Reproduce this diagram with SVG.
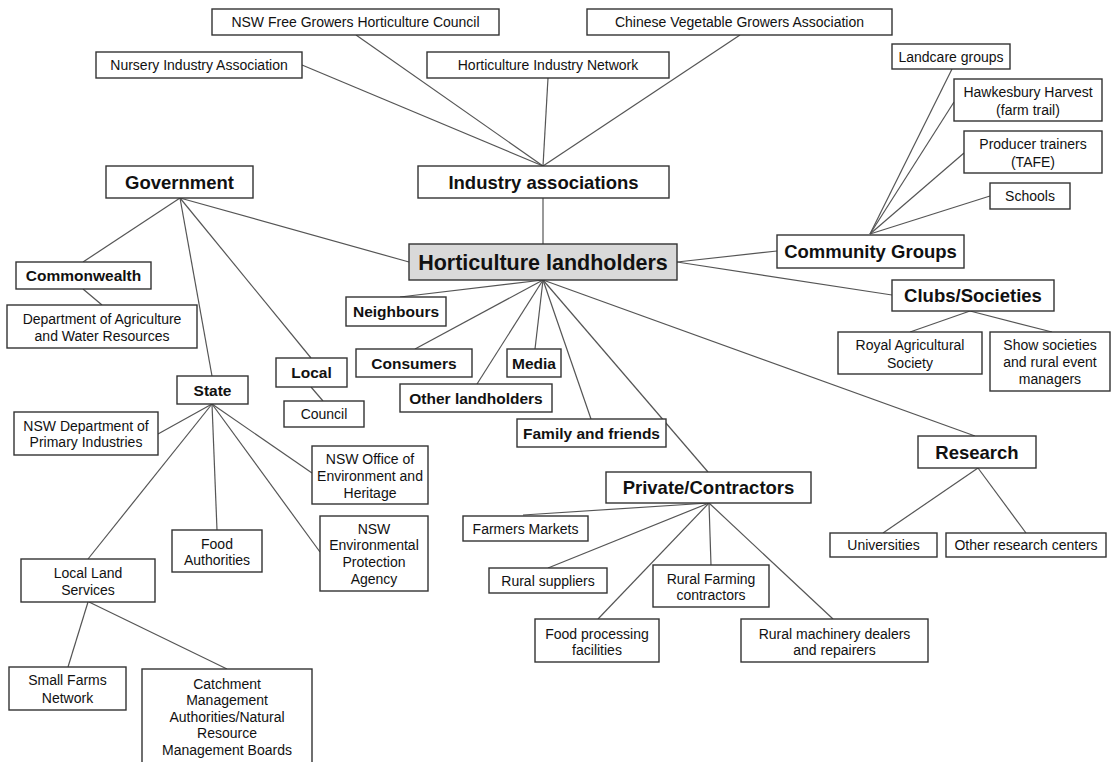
<svg xmlns="http://www.w3.org/2000/svg" width="1111" height="762" viewBox="0 0 1111 762">
<style>
rect{fill:#fff;stroke:#333;stroke-width:1.4}
.hl rect{fill:#d9d9d9}
text{font-family:"Liberation Sans",Arial,sans-serif;fill:#111;text-anchor:middle}
.r{font-size:14px}
.b1{font-size:18.5px;font-weight:bold}
.b2{font-size:15.5px;font-weight:bold}
.b0{font-size:21.5px;font-weight:bold}
#connectors line{stroke:#555;stroke-width:1.2}
</style>
<rect x="0" y="0" width="1111" height="762" style="fill:#fff;stroke:none"/>
<g id="connectors">
<line x1="302" y1="65" x2="543" y2="166"/>
<line x1="356" y1="35" x2="543" y2="166"/>
<line x1="548" y1="78" x2="543" y2="166"/>
<line x1="740" y1="35" x2="543" y2="166"/>
<line x1="543" y1="198" x2="543" y2="244"/>
<line x1="180" y1="198" x2="409" y2="262"/>
<line x1="180" y1="198" x2="83" y2="262"/>
<line x1="83" y1="289" x2="102" y2="305"/>
<line x1="180" y1="198" x2="212" y2="376"/>
<line x1="180" y1="198" x2="311" y2="358"/>
<line x1="311" y1="387" x2="323" y2="401"/>
<line x1="212" y1="404" x2="158" y2="434"/>
<line x1="212" y1="404" x2="88" y2="559"/>
<line x1="212" y1="404" x2="217" y2="530"/>
<line x1="212" y1="404" x2="312" y2="473"/>
<line x1="212" y1="404" x2="320" y2="552"/>
<line x1="88" y1="602" x2="68" y2="667"/>
<line x1="89" y1="602" x2="227" y2="669"/>
<line x1="543" y1="280" x2="400" y2="297"/>
<line x1="543" y1="280" x2="415" y2="349"/>
<line x1="543" y1="280" x2="477" y2="384"/>
<line x1="543" y1="280" x2="535" y2="349"/>
<line x1="543" y1="280" x2="591" y2="419"/>
<line x1="543" y1="280" x2="708" y2="472"/>
<line x1="543" y1="280" x2="975" y2="436"/>
<line x1="677" y1="262" x2="777" y2="251"/>
<line x1="677" y1="262" x2="892" y2="295"/>
<line x1="870" y1="234" x2="952" y2="69"/>
<line x1="870" y1="234" x2="954" y2="102"/>
<line x1="870" y1="234" x2="964" y2="153"/>
<line x1="870" y1="234" x2="990" y2="196"/>
<line x1="970" y1="311" x2="910" y2="332"/>
<line x1="970" y1="311" x2="1052" y2="332"/>
<line x1="978" y1="468" x2="883" y2="533"/>
<line x1="978" y1="468" x2="1026" y2="533"/>
<line x1="709" y1="503" x2="523" y2="515"/>
<line x1="709" y1="503" x2="548" y2="568"/>
<line x1="709" y1="503" x2="711" y2="565"/>
<line x1="709" y1="503" x2="598" y2="619"/>
<line x1="709" y1="503" x2="833" y2="619"/>
</g>
<g id="nsw-free"><rect x="212" y="9" width="287" height="26"/><text class="r" x="355.5" y="27">NSW Free Growers Horticulture Council</text></g>
<g id="chinese-veg"><rect x="587" y="9" width="305" height="26"/><text class="r" x="739.5" y="27">Chinese Vegetable Growers Association</text></g>
<g id="nursery"><rect x="96" y="52" width="206" height="26"/><text class="r" x="199" y="70">Nursery Industry Association</text></g>
<g id="hin"><rect x="427" y="52" width="242" height="26"/><text class="r" x="548" y="70">Horticulture Industry Network</text></g>
<g id="government"><rect x="106" y="166" width="147" height="32"/><text class="b1" x="179.5" y="188.5">Government</text></g>
<g id="industry"><rect x="418" y="166" width="251" height="32"/><text class="b1" x="543.5" y="188.5">Industry associations</text></g>
<g id="landcare"><rect x="892" y="44" width="118" height="25"/><text class="r" x="951" y="61.5">Landcare groups</text></g>
<g id="hawkesbury"><rect x="954" y="79" width="148" height="42"/><text class="r" x="1028" y="97">Hawkesbury Harvest</text><text class="r" x="1028" y="115">(farm trail)</text></g>
<g id="producer"><rect x="964" y="131" width="138" height="42"/><text class="r" x="1033" y="149">Producer trainers</text><text class="r" x="1033" y="166.5">(TAFE)</text></g>
<g id="schools"><rect x="990" y="183" width="80" height="26"/><text class="r" x="1030" y="201">Schools</text></g>
<g id="community"><rect x="777" y="235" width="187" height="33"/><text class="b1" x="870.5" y="258">Community Groups</text></g>
<g id="landholders" class="hl"><rect x="409" y="244" width="268" height="36"/><text class="b0" x="543" y="269.5">Horticulture landholders</text></g>
<g id="commonwealth"><rect x="16" y="262" width="135" height="27"/><text class="b2" x="83.5" y="281">Commonwealth</text></g>
<g id="dept-ag"><rect x="7" y="305" width="190" height="43"/><text class="r" x="102" y="324">Department of Agriculture</text><text class="r" x="102" y="341">and Water Resources</text></g>
<g id="neighbours"><rect x="346" y="297" width="100" height="29"/><text class="b2" x="396" y="317">Neighbours</text></g>
<g id="clubs"><rect x="892" y="280" width="162" height="31"/><text class="b1" x="973" y="302">Clubs/Societies</text></g>
<g id="royal"><rect x="838" y="332" width="144" height="42"/><text class="r" x="910" y="350">Royal Agricultural</text><text class="r" x="910" y="367.5">Society</text></g>
<g id="show"><rect x="990" y="332" width="120" height="59"/><text class="r" x="1050" y="350">Show societies</text><text class="r" x="1050" y="367">and rural event</text><text class="r" x="1050" y="384">managers</text></g>
<g id="consumers"><rect x="356" y="349" width="116" height="28"/><text class="b2" x="414" y="368.5">Consumers</text></g>
<g id="media"><rect x="507" y="349" width="54" height="28"/><text class="b2" x="534" y="368.5">Media</text></g>
<g id="local"><rect x="276" y="358" width="71" height="29"/><text class="b2" x="311.5" y="378">Local</text></g>
<g id="state"><rect x="177" y="376" width="71" height="28"/><text class="b2" x="212.5" y="395.5">State</text></g>
<g id="other-landholders"><rect x="400" y="384" width="152" height="28"/><text class="b2" x="476" y="403.5">Other landholders</text></g>
<g id="council"><rect x="284" y="401" width="80" height="26"/><text class="r" x="324" y="419">Council</text></g>
<g id="nsw-dpi"><rect x="14" y="412" width="144" height="43"/><text class="r" x="86" y="430.5">NSW Department of</text><text class="r" x="86" y="447">Primary Industries</text></g>
<g id="family"><rect x="517" y="419" width="149" height="28"/><text class="b2" x="591.5" y="438.5">Family and friends</text></g>
<g id="research"><rect x="918" y="436" width="118" height="32"/><text class="b1" x="977" y="458.5">Research</text></g>
<g id="office-env"><rect x="312" y="446" width="116" height="58"/><text class="r" x="370" y="464">NSW Office of</text><text class="r" x="370" y="481">Environment and</text><text class="r" x="370" y="497.5">Heritage</text></g>
<g id="private"><rect x="606" y="472" width="205" height="31"/><text class="b1" x="708.5" y="494">Private/Contractors</text></g>
<g id="epa"><rect x="320" y="516" width="108" height="75"/><text class="r" x="374" y="533.5">NSW</text><text class="r" x="374" y="550">Environmental</text><text class="r" x="374" y="567">Protection</text><text class="r" x="374" y="583.5">Agency</text></g>
<g id="farmers-markets"><rect x="463" y="516" width="125" height="25"/><text class="r" x="525.5" y="534">Farmers Markets</text></g>
<g id="universities"><rect x="830" y="533" width="107" height="24"/><text class="r" x="883.5" y="550">Universities</text></g>
<g id="other-research"><rect x="946" y="533" width="160" height="24"/><text class="r" x="1026" y="550">Other research centers</text></g>
<g id="food-auth"><rect x="172" y="530" width="90" height="42"/><text class="r" x="217" y="548.5">Food</text><text class="r" x="217" y="564.5">Authorities</text></g>
<g id="lls"><rect x="21" y="559" width="134" height="43"/><text class="r" x="88" y="577.5">Local Land</text><text class="r" x="88" y="594.5">Services</text></g>
<g id="rural-suppliers"><rect x="489" y="568" width="118" height="25"/><text class="r" x="548" y="586">Rural suppliers</text></g>
<g id="rural-farming"><rect x="653" y="565" width="116" height="42"/><text class="r" x="711" y="583.5">Rural Farming</text><text class="r" x="711" y="600">contractors</text></g>
<g id="food-processing"><rect x="535" y="619" width="124" height="43"/><text class="r" x="597" y="638.5">Food processing</text><text class="r" x="597" y="654.5">facilities</text></g>
<g id="rural-machinery"><rect x="741" y="619" width="187" height="43"/><text class="r" x="834.5" y="638.5">Rural machinery dealers</text><text class="r" x="834.5" y="654.5">and repairers</text></g>
<g id="small-farms"><rect x="9" y="667" width="117" height="43"/><text class="r" x="67.5" y="685">Small Farms</text><text class="r" x="67.5" y="702.5">Network</text></g>
<g id="catchment"><rect x="142" y="669" width="170" height="100"/><text class="r" x="227" y="688.5">Catchment</text><text class="r" x="227" y="705">Management</text><text class="r" x="227" y="721.5">Authorities/Natural</text><text class="r" x="227" y="738">Resource</text><text class="r" x="227" y="754.5">Management Boards</text></g>
</svg>
